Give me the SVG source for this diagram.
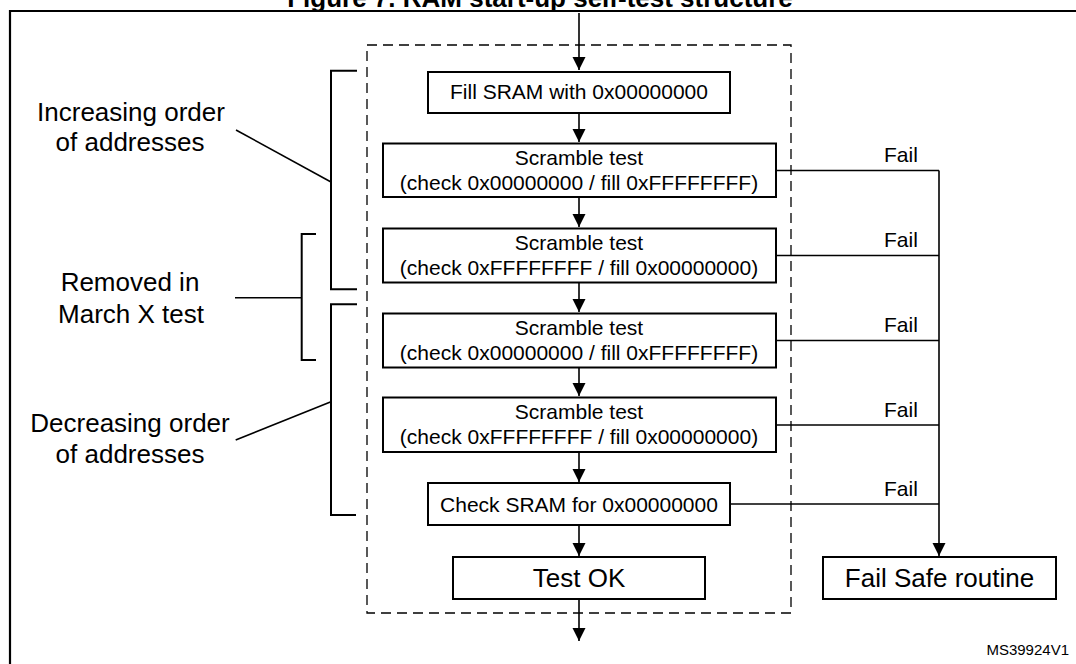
<svg xmlns="http://www.w3.org/2000/svg" width="1076" height="664" viewBox="0 0 1076 664">
<defs>
<style>
text{font-family:"Liberation Sans",Arial,sans-serif;fill:#000}
.box{fill:#fff;stroke:#000;stroke-width:2}
.t21{font-size:21px;text-anchor:middle}
.t26{font-size:26px;text-anchor:middle}
.fail{font-size:21px}
.ln{fill:none;stroke:#000;stroke-width:1.6}
.br{fill:none;stroke:#000;stroke-width:2}
</style>
<marker id="ah" markerWidth="13" markerHeight="14" refX="13" refY="6.5" orient="auto" markerUnits="userSpaceOnUse" viewBox="0 0 13 13">
<path d="M0,0 L13,6.5 L0,13 Z" fill="#000"/>
</marker>
</defs>
<rect width="1076" height="664" fill="#fff"/>
<text x="540" y="6.5" style="font-size:26px;font-weight:bold;text-anchor:middle">Figure 7. RAM start-up self-test structure</text>
<path d="M10,680 V11 H1090" fill="none" stroke="#000" stroke-width="2.2"/>
<rect id="dashed-frame" x="367" y="45" width="424" height="568" fill="none" stroke="#000" stroke-width="1.3" stroke-dasharray="10,6"/>

<g id="connectors">
<path class="ln" d="M579,13 V70" marker-end="url(#ah)"/>
<path class="ln" d="M579,113 V142" marker-end="url(#ah)"/>
<path class="ln" d="M579,197 V227" marker-end="url(#ah)"/>
<path class="ln" d="M579,283 V312" marker-end="url(#ah)"/>
<path class="ln" d="M579,368 V396" marker-end="url(#ah)"/>
<path class="ln" d="M579,452 V482" marker-end="url(#ah)"/>
<path class="ln" d="M579,525 V556" marker-end="url(#ah)"/>
<path class="ln" d="M579,599 V641" marker-end="url(#ah)"/>
<path class="ln" d="M776,170.5 H939"/>
<path class="ln" d="M776,255.5 H939"/>
<path class="ln" d="M776,340.5 H939"/>
<path class="ln" d="M776,425 H939"/>
<path class="ln" d="M730,504 H939"/>
<path class="ln" d="M939,170.5 V556" marker-end="url(#ah)"/>
<text class="fail" x="884" y="162">Fail</text>
<text class="fail" x="884" y="247">Fail</text>
<text class="fail" x="884" y="332">Fail</text>
<text class="fail" x="884" y="416.5">Fail</text>
<text class="fail" x="884" y="495.5">Fail</text>
</g>

<g id="fill-sram">
<rect class="box" x="428" y="72" width="302" height="41"/>
<text class="t21" x="579" y="99">Fill SRAM with 0x00000000</text>
</g>
<g id="scramble-1">
<rect class="box" x="383" y="143.5" width="393" height="53.5"/>
<text class="t21" x="579" y="164.5">Scramble test</text>
<text class="t21" x="579" y="190">(check 0x00000000 / fill 0xFFFFFFFF)</text>
</g>
<g id="scramble-2">
<rect class="box" x="383" y="228.5" width="393" height="54"/>
<text class="t21" x="579" y="249.5">Scramble test</text>
<text class="t21" x="579" y="275">(check 0xFFFFFFFF / fill 0x00000000)</text>
</g>
<g id="scramble-3">
<rect class="box" x="383" y="313.5" width="393" height="54"/>
<text class="t21" x="579" y="334.5">Scramble test</text>
<text class="t21" x="579" y="360">(check 0x00000000 / fill 0xFFFFFFFF)</text>
</g>
<g id="scramble-4">
<rect class="box" x="383" y="397.5" width="393" height="54.5"/>
<text class="t21" x="579" y="418.5">Scramble test</text>
<text class="t21" x="579" y="444">(check 0xFFFFFFFF / fill 0x00000000)</text>
</g>
<g id="check-sram">
<rect class="box" x="428" y="483" width="302" height="42"/>
<text class="t21" x="579" y="512">Check SRAM for 0x00000000</text>
</g>
<g id="test-ok">
<rect class="box" x="453" y="557" width="252" height="42"/>
<text class="t26" x="579" y="587">Test OK</text>
</g>
<g id="fail-safe">
<rect class="box" x="823" y="557" width="233" height="42"/>
<text class="t26" x="939.5" y="587">Fail Safe routine</text>
</g>

<g id="increasing">
<path class="br" d="M357,70.7 H331 V289.3 H357"/>
<path class="ln" d="M236,130 L331,182"/>
<text class="t26" x="131" y="120.7">Increasing order</text>
<text class="t26" x="130" y="150.7">of addresses</text>
</g>
<g id="removed">
<path class="br" d="M316,234 H301.7 V360 H316"/>
<path class="ln" d="M235,297.7 H301.7"/>
<text class="t26" x="130" y="290.7">Removed in</text>
<text class="t26" x="131" y="323">March X test</text>
</g>
<g id="decreasing">
<path class="br" d="M357,304.3 H331 V515 H356"/>
<path class="ln" d="M235.7,440 L331,401.7"/>
<text class="t26" x="130" y="431.7">Decreasing order</text>
<text class="t26" x="130" y="463">of addresses</text>
</g>
<text x="1069" y="655" style="font-size:15px;text-anchor:end">MS39924V1</text>
</svg>
